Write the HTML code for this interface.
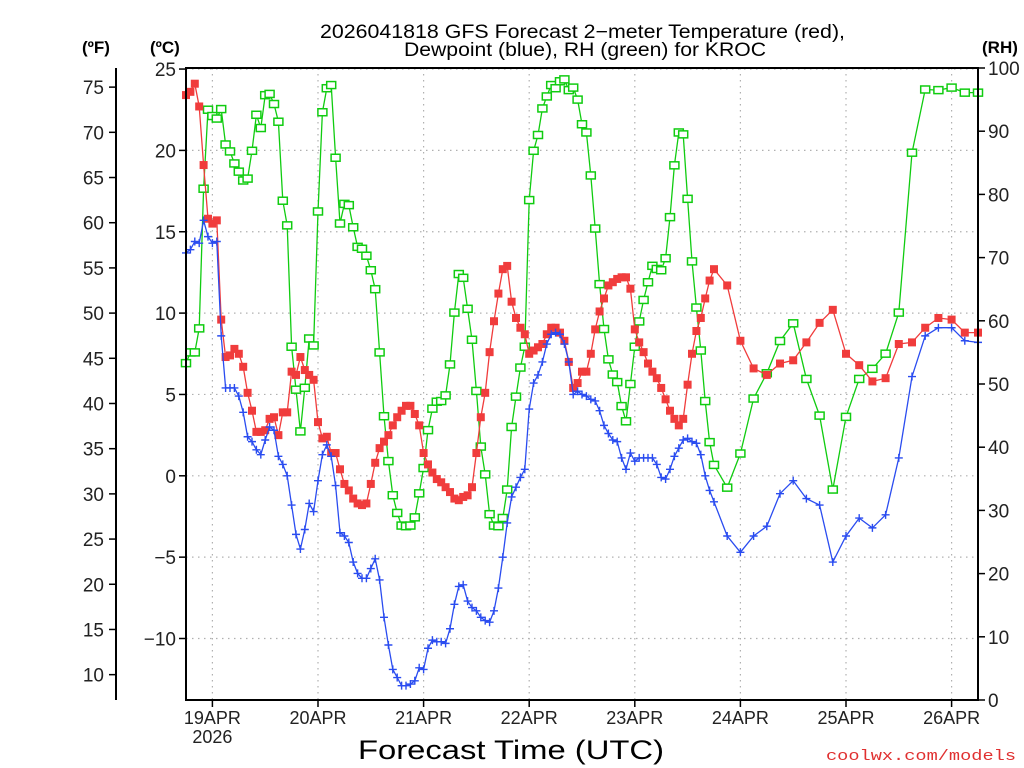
<!DOCTYPE html>
<html><head><meta charset="utf-8"><style>
html,body{margin:0;padding:0;background:#fff;}
svg{display:block;font-family:"Liberation Sans",sans-serif;}
</style></head><body>
<svg id="chart" width="1024" height="768" viewBox="0 0 1024 768" xmlns="http://www.w3.org/2000/svg">
<rect x="0" y="0" width="1024" height="768" fill="#fff"/>
<g>
<text x="320" y="38" font-size="19" textLength="525" lengthAdjust="spacingAndGlyphs" fill="#000">2026041818 GFS Forecast 2−meter Temperature (red),</text>
<text x="404" y="56" font-size="19" textLength="362" lengthAdjust="spacingAndGlyphs" fill="#000">Dewpoint (blue), RH (green) for KROC</text>
</g>
<text x="82" y="53" font-size="17" font-weight="bold">(ºF)</text>
<text x="150" y="53" font-size="17" font-weight="bold">(ºC)</text>
<text x="982" y="53" font-size="17" font-weight="bold">(RH)</text>
<g id="grid"></g>
<g id="series"></g>
<rect x="186" y="68" width="792" height="632" fill="none" stroke="#000" stroke-width="2"/>
<line x1="116" y1="68" x2="116" y2="700" stroke="#000" stroke-width="2"/>
<g id="axes"></g>
<text x="358" y="759" font-size="27" textLength="306" lengthAdjust="spacingAndGlyphs">Forecast Time (UTC)</text>
<text x="826" y="760" font-size="15" fill="#e03030" font-family="Liberation Mono, monospace" textLength="190" lengthAdjust="spacingAndGlyphs">coolwx.com/models</text>
</svg>
<script>
const hours = [-6,-5,-4,-3,-2,-1,0,1,2,3,4,5,6,7,8,9,10,11,12,13,14,15,16,17,18,19,20,21,22,23,24,25,26,27,28,29,30,31,32,33,34,35,36,37,38,39,40,41,42,43,44,45,46,47,48,49,50,51,52,53,54,55,56,57,58,59,60,61,62,63,64,65,66,67,68,69,70,71,72,73,74,75,76,77,78,79,80,81,82,83,84,85,86,87,88,89,90,91,92,93,94,95,96,97,98,99,100,101,102,103,104,105,106,107,108,109,110,111,112,113,114,117,120,123,126,129,132,135,138,141,144,147,150,153,156,159,162,165,168,171,174];
const tempC = [23.4,23.6,24.1,22.7,19.1,15.8,15.5,15.7,9.6,7.3,7.4,7.8,7.5,6.7,5.1,4.0,2.7,2.7,2.8,3.5,3.6,2.5,3.9,3.9,6.4,6.2,7.3,6.5,6.2,5.9,3.3,2.3,2.4,1.4,1.4,0.4,-0.5,-0.9,-1.4,-1.7,-1.8,-1.7,-0.5,0.8,1.7,2.1,2.5,3.1,3.6,4.0,4.3,4.3,3.8,3.1,1.4,0.7,0.2,-0.2,-0.4,-0.7,-1.0,
-1.4,-1.5,-1.3,-1.2,-0.7,1.4,3.6,5.1,7.6,9.5,11.2,12.7,12.9,10.7,9.7,9.1,8.7,7.5,7.7,7.9,8.1,8.7,9.1,9.1,8.8,8.3,7.0,5.4,5.7,6.4,6.4,7.5,9.0,10.1,10.9,11.7,11.9,12.1,12.2,12.2,11.5,9.0,8.2,7.6,6.9,6.4,6.0,5.4,4.7,4.0,3.5,3.1,3.5,5.6,7.5,8.9,9.7,
10.9,12.0,12.7,
11.7,8.3,6.6,6.2,6.9,7.1,8.2,9.4,10.2,7.5,6.8,5.8,6.0,8.1,8.2,9.1,9.7,9.6,8.8,8.8];
const dewC = [13.7,13.9,14.4,14.3,15.7,14.7,14.3,14.4,8.6,5.4,5.4,5.4,4.9,3.9,2.4,2.1,1.6,1.3,2.2,3.0,2.8,1.2,0.7,0.0,-1.8,-3.6,-4.5,-3.3,-1.7,-2.2,-0.3,1.3,1.9,1.2,-0.6,-3.5,-3.7,-4.1,-5.3,-6.0,-6.3,-6.3,-5.7,-5.1,-6.4,-8.7,-10.4,-11.9,-12.4,-12.9,-12.9,-12.8,-12.6,-11.8,-11.9,-10.6,-10.1,-10.2,-10.2,-10.3,-9.4,
-7.9,-6.8,-6.7,-7.7,-8.1,-8.3,-8.7,-8.9,-9.0,-8.3,-6.9,-5.0,-2.9,-1.3,-0.7,-0.1,0.4,4.1,5.7,6.2,7.0,8.1,8.7,8.8,8.7,8.1,7.0,5.0,5.2,5.0,4.9,4.7,4.6,4.0,3.1,2.6,2.2,2.1,1.1,0.4,1.4,0.9,1.1,1.1,1.1,1.1,0.7,-0.1,-0.2,0.4,1.2,1.7,2.2,2.3,2.1,2.0,1.3,
0.0,-0.9,-1.6,
-3.7,-4.7,-3.7,-3.1,-1.1,-0.3,-1.4,-1.8,-5.3,-3.7,-2.6,-3.2,-2.4,1.1,6.1,8.6,9.1,9.1,8.3,8.2];
const rhPct = [53.3,55.0,55.0,58.8,80.9,93.4,92.4,92.0,93.5,87.9,86.8,84.9,83.6,82.2,82.5,86.9,92.6,90.5,95.7,95.9,94.3,91.5,79.0,75.1,55.9,49.1,42.5,49.4,57.2,56.1,77.3,93.0,96.8,97.3,85.8,75.4,78.5,78.3,74.8,71.7,71.4,70.3,68.0,65.0,55.0,44.9,37.8,32.4,29.6,27.6,27.5,27.6,28.9,32.7,36.7,42.7,46.1,47.2,47.3,48.2,53.1,
61.3,67.4,66.8,61.9,57.0,48.9,40.1,35.7,29.4,27.6,27.5,28.8,33.3,43.2,48.0,52.6,55.9,79.1,86.9,89.4,93.6,95.5,97.3,96.8,97.9,98.2,96.5,96.9,95.0,91.1,89.8,83.0,74.6,65.8,58.7,53.9,51.5,50.3,46.5,44.1,50.0,55.9,59.9,63.3,66.1,68.7,68.2,68.0,69.9,76.4,84.6,89.8,89.5,79.3,69.4,62.1,55.3,
47.3,40.8,37.2,
33.6,39.0,47.7,51.7,56.8,59.6,50.8,45.0,33.3,44.8,50.8,52.4,54.8,61.3,86.6,96.6,96.5,96.9,96.1,96.1];
const celsiusTicks = [25,20,15,10,5,0,-5,-10];
const fahrenheitTicks = [75,70,65,60,55,50,45,40,35,30,25,20,15,10];
const rhTicks = [100,90,80,70,60,50,40,30,20,10,0];
const dayHours = [0,24,48,72,96,120,144,168];
const dayLabels = ["19APR","20APR","21APR","22APR","23APR","24APR","25APR","26APR"];

const NS="http://www.w3.org/2000/svg";
const X0=186,X1=978,Y0=68,Y1=700,H0=-6,H1=174;
function xOf(h){return X0+(h-H0)/(H1-H0)*(X1-X0);}
function yC(c){return 475.8-16.27*c;}
function yF(f){return yC((f-32)*5/9);}
function yRH(r){return Y1-(r/100)*(Y1-Y0);}
function mk(tag,attrs,parent){const e=document.createElementNS(NS,tag);for(const k in attrs)e.setAttribute(k,attrs[k]);parent.appendChild(e);return e;}
const grid=document.getElementById('grid'),axes=document.getElementById('axes'),series=document.getElementById('series');

celsiusTicks.forEach(c=>{
 const y=yC(c);
 const g=mk('line',{x1:X0,x2:X1,y1:y,y2:y,stroke:'#b0b0b0','stroke-width':1.2,'stroke-dasharray':'1.5,4.5'},grid);
 
 
 const t=mk('line',{x1:X0-7,x2:X0,y1:y,y2:y,stroke:'#000','stroke-width':1.5},axes);
 
 
 const l=mk('text',{x:X0-10,y:y+7,'font-size':19,'text-anchor':'end',fill:'#222'},axes);
 l.textContent=c<0?'−'+Math.abs(c):String(c);
 
 
});
fahrenheitTicks.forEach(f=>{
 const y=yF(f);
 const t=mk('line',{x1:109,x2:116,y1:y,y2:y,stroke:'#000','stroke-width':1.5},axes);
 
 
 const l=mk('text',{x:104,y:y+7,'font-size':19,'text-anchor':'end',fill:'#222'},axes);
 l.textContent=String(f);
 
 
});
rhTicks.forEach(r=>{
 const y=yRH(r);
 const t=mk('line',{x1:X1,x2:X1+7,y1:y,y2:y,stroke:'#000','stroke-width':1.5},axes);
 
 
 const l=mk('text',{x:X1+10,y:y+7,'font-size':19,fill:'#222'},axes);
 l.textContent=String(r);
 
 
});
dayHours.forEach((h,i)=>{
 const x=xOf(h);
 const g=mk('line',{x1:x,x2:x,y1:Y0,y2:Y1,stroke:'#b0b0b0','stroke-width':1.2,'stroke-dasharray':'1.5,4.5'},grid);
 
 
 const t=mk('line',{x1:x,x2:x,y1:Y1,y2:Y1+7,stroke:'#000','stroke-width':1.5},axes);
 
 
 const l=mk('text',{x:x,y:724,'font-size':18,'text-anchor':'middle',fill:'#222'},axes);
 l.textContent=dayLabels[i];
 
 
});
const yr=mk('text',{x:xOf(0),y:743,'font-size':18,'text-anchor':'middle',fill:'#222'},axes);
yr.textContent='2026';



function drawSeries(vals,yfn,color,kind,name){
 const g=mk('g',{},series);
 
 
 const pts=hours.map((h,i)=>xOf(h).toFixed(1)+','+yfn(vals[i]).toFixed(1)).join(' ');
 const pl=mk('polyline',{points:pts,fill:'none',stroke:color,'stroke-width':1.3},g);
 
 
 hours.forEach((h,i)=>{
  const x=xOf(h),y=yfn(vals[i]);
  let m;
  if(kind==='fill'){m=mk('rect',{x:x-4,y:y-4,width:8,height:8,fill:color},g);}
  else if(kind==='open'){m=mk('rect',{x:x-4.5,y:y-3.5,width:9,height:7,fill:'#fff',stroke:color,'stroke-width':1.5},g);}
  else {m=mk('path',{d:`M${x-4},${y}H${x+4}M${x},${y-4}V${y+4}`,stroke:color,'stroke-width':1.4,fill:'none'},g);}
  
  
 });
}
drawSeries(rhPct,yRH,'#10cc10','open','rh');
drawSeries(tempC,yC,'#f03c3c','fill','temperature');
drawSeries(dewC,yC,'#2a4cf0','plus','dewpoint');
</script>
</body></html>
